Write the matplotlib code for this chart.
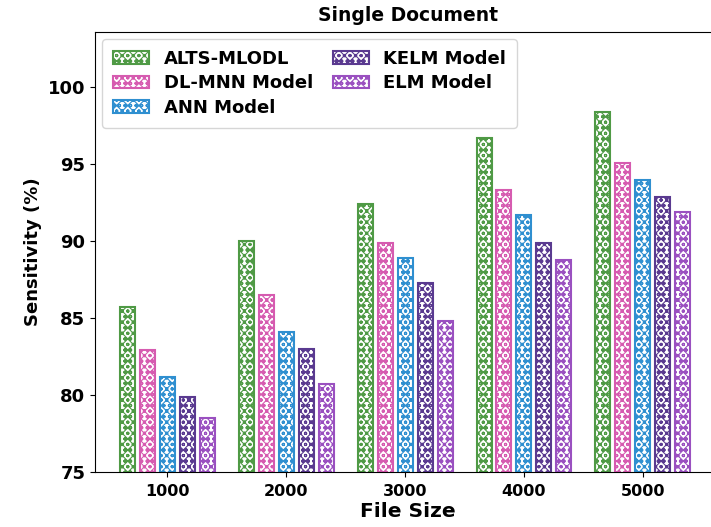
import numpy as np
import matplotlib
matplotlib.use('Agg')
import matplotlib.pyplot as plt

file_sizes = ['1000', '2000', '3000', '4000', '5000']
models = ['ALTS-MLODL', 'DL-MNN Model', 'ANN Model', 'KELM Model', 'ELM Model']
alts_mlodl = [85.7, 90.0, 92.4, 96.7, 98.4]
dl_mnn = [82.9, 86.5, 89.9, 93.3, 95.1]
ann = [81.2, 84.1, 88.9, 91.7, 94.0]
kelm = [79.9, 83.0, 87.3, 89.9, 92.9]
elm = [78.5, 80.7, 84.8, 88.8, 91.9]

colors = ['#4f9a45', '#d65bb0', '#2f8fd0', '#5a3a90', '#9a50c0']
plt.rcParams['hatch.linewidth'] = 0.8

fig = plt.figure(figsize=(7.11, 5.27), dpi=100)
ax = fig.add_axes([95 / 711, 55 / 527, 625 / 711, 440 / 527])

x = np.arange(len(file_sizes))
step = 0.168
width = 0.126
for i, (vals, name, c) in enumerate(zip([alts_mlodl, dl_mnn, ann, kelm, elm], models, colors)):
    ax.bar(x + (i - 2) * step, vals, width, color='white', edgecolor=c,
           hatch='xxxooo', linewidth=1.5, label=name)

ax.set_ylim(75, 103.6)
ax.set_xlim(-0.61, 4.65)
ax.set_xticks(x)
ax.set_xticklabels(file_sizes, fontsize=11.5, fontweight='bold')
ax.set_yticks([75, 80, 85, 90, 95, 100])
ax.set_yticklabels(['75', '80', '85', '90', '95', '100'], fontsize=13, fontweight='bold')
ax.tick_params(axis='x', pad=5)
ax.set_xlabel('File Size', fontsize=14.5, fontweight='bold', labelpad=2)
ax.set_ylabel('Sensitivity (%)', fontsize=13, fontweight='bold')
ax.set_title('Single Document', fontsize=13.5, fontweight='bold', pad=8)
ax.legend(loc='upper left', ncol=2, prop={'weight': 'bold', 'size': 13},
          columnspacing=1.1, handlelength=2.0, borderaxespad=0.4,
          borderpad=0.6, labelspacing=0.35)

plt.savefig('out.png', dpi=100)
